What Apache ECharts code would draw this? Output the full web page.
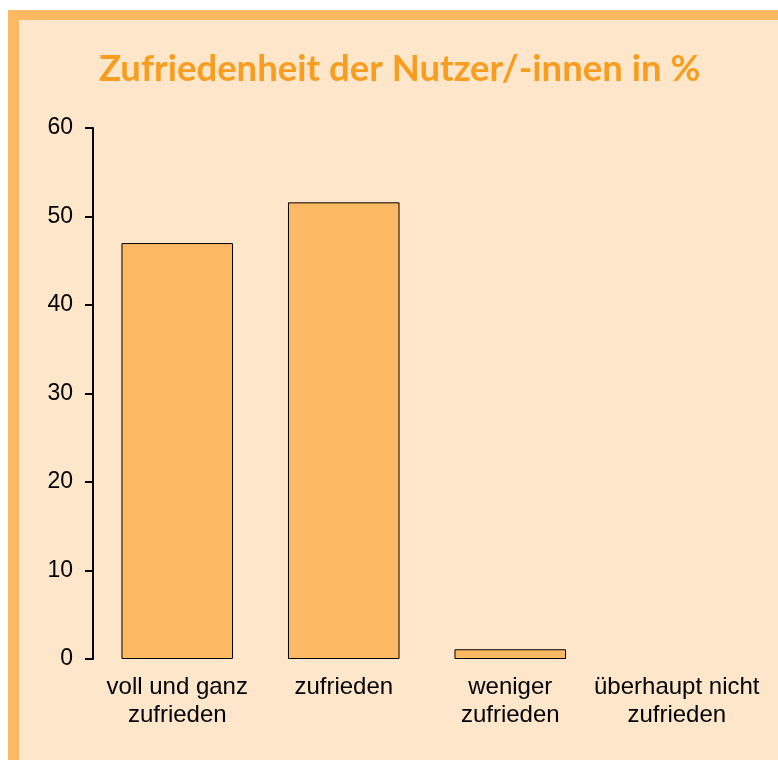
<!DOCTYPE html>
<html>
<head>
<meta charset="utf-8">
<script src="https://cdn.jsdelivr.net/npm/echarts@6/dist/echarts.min.js"></script>
<style>
  html, body { margin: 0; padding: 0; background: #ffffff; }
  #chart { width: 778px; height: 760px; }
</style>
</head>
<body>
<div id="chart"></div>
<script>
var categories = ['voll und ganz\nzufrieden', 'zufrieden', 'weniger\nzufrieden', 'überhaupt nicht\nzufrieden'];
var values = [47.0, 51.6, 1.1, 0];
var yTicks = [0, 10, 20, 30, 40, 50, 60];

// a bar of 0 gets no outline, as in the original
var barData = values.map(function (v) {
    return v === 0 ? { value: v, itemStyle: { borderWidth: 0 } } : v;
});

var chart = echarts.init(document.getElementById('chart'));
var option = {
    animation: false,
    backgroundColor: '#ffffff',
    graphic: [
        { type: 'rect', z: -10, shape: { x: 8, y: 10, width: 770, height: 750 }, style: { fill: '#FDB862' } },
        { type: 'rect', z: -9, shape: { x: 19, y: 20, width: 759, height: 740 }, style: { fill: '#FDE6C9' } }
    ],
    title: {
        text: 'Zufriedenheit der Nutzer/-innen in %',
        left: 94,
        top: 46,
        textStyle: {
            fontFamily: 'Lato',
            fontWeight: 'bold',
            fontSize: 36.5,
            color: '#F89D1F'
        }
    },
    grid: { left: 94, right: 18, top: 128, bottom: 101 },
    xAxis: {
        type: 'category',
        data: categories,
        axisLine: { show: false },
        axisTick: { show: false },
        axisLabel: {
            interval: 0,
            margin: 14,
            fontFamily: 'Liberation Sans',
            fontSize: 24,
            lineHeight: 28,
            color: '#000'
        }
    },
    yAxis: {
        type: 'value',
        min: yTicks[0],
        max: yTicks[yTicks.length - 1],
        interval: 10,
        offset: 1,
        axisLine: { show: true, lineStyle: { color: '#000', width: 2 } },
        axisTick: { show: true, length: 8, lineStyle: { color: '#000', width: 2 } },
        splitLine: { show: false },
        axisLabel: {
            margin: 20,
            fontFamily: 'Liberation Sans',
            fontSize: 23,
            color: '#000'
        }
    },
    series: [{
        type: 'bar',
        data: barData,
        barCategoryGap: '33%',
        itemStyle: { color: '#FDB863', borderColor: '#000', borderWidth: 1 }
    }]
};
chart.setOption(option);
</script>
</body>
</html>
